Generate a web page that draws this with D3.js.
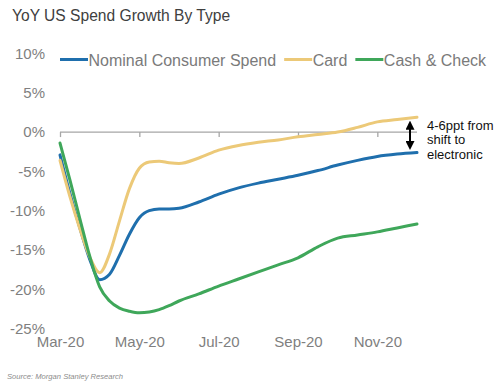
<!DOCTYPE html>
<html>
<head>
<meta charset="utf-8">
<script src="https://cdn.jsdelivr.net/npm/d3@7"></script>
<style>
  html, body { margin: 0; padding: 0; background: #ffffff; }
  svg { display: block; font-family: "Liberation Sans", Arial, sans-serif; }
</style>
</head>
<body>
<svg id="chart" width="494" height="381"></svg>
<script>
// Months elapsed since March 2020 (sampling points of the weekly series)
const monthIdx = [0, 0.25, 0.5, 0.75, 1, 1.25, 1.5, 1.75, 2, 2.25, 2.5, 2.75, 3,
                  3.5, 4, 4.5, 5, 5.5, 6, 6.5, 7, 7.5, 8, 8.5, 9];

// YoY growth, %
const nominalSpend = [-2.9, -7.8, -12.2, -16.2, -18.8, -18.1, -15.7, -13.0, -10.9, -10.0, -9.8, -9.8, -9.7,
                      -8.9, -7.9, -7.1, -6.5, -6.0, -5.5, -4.9, -4.2, -3.6, -3.1, -2.8, -2.6];
const cardSpend    = [-3.6, -8.2, -12.3, -15.9, -17.9, -15.5, -11.3, -7.2, -4.6, -3.8, -3.7, -3.9, -4.0,
                      -3.3, -2.3, -1.7, -1.3, -1.0, -0.6, -0.3, 0.0, 0.6, 1.3, 1.6, 1.9];
const cashCheck    = [-1.4, -6.1, -11.0, -15.8, -19.7, -21.5, -22.4, -22.8, -23.0, -22.9, -22.6, -22.1, -21.5,
                      -20.6, -19.6, -18.7, -17.8, -16.9, -16.0, -14.6, -13.5, -13.1, -12.7, -12.2, -11.7];

const seriesNames = ["Nominal Consumer Spend", "Card", "Cash & Check"];
const seriesColors = ["#1f6fad", "#ecc978", "#3fa75a"];

const xTickIdx = [0, 2, 4, 6, 8];
const xTickLabels = ["Mar-20", "May-20", "Jul-20", "Sep-20", "Nov-20"];
const yTicks = [10, 5, 0, -5, -10, -15, -20, -25];

const titleText = "YoY US Spend Growth By Type";
const sourceText = "Source: Morgan Stanley Research";
const noteLines = ["4-6ppt from", "shift to", "electronic"];

const svg = d3.select("#chart");

const x = d3.scaleLinear().domain([0, 9]).range([60, 417]);
const y = d3.scaleLinear().domain([-25, 10]).range([328.5, 53.5]);

// Title
svg.append("text")
  .attr("x", 12).attr("y", 21)
  .attr("font-size", 15.6)
  .attr("fill", "#404040")
  .text(titleText);

// Y axis labels (no axis line)
const yAxis = svg.append("g")
  .attr("transform", "translate(47,0)")
  .call(d3.axisLeft(y).tickValues(yTicks).tickSize(0).tickPadding(2)
        .tickFormat(d => d + "%"));
yAxis.select(".domain").remove();
yAxis.selectAll("text")
  .attr("font-size", 15)
  .attr("font-family", "Liberation Sans, Arial, sans-serif")
  .attr("fill", "#7f7f7f");

// Zero line with tick marks
const zeroAxis = svg.append("g")
  .attr("transform", `translate(0,${y(0)})`)
  .call(d3.axisBottom(x).tickValues(xTickIdx).tickSize(5).tickFormat(""));
zeroAxis.select(".domain").attr("stroke", "#a6a6a6").attr("stroke-width", 1.3)
  .attr("d", `M${x(0)},0H${x(9)}`);
zeroAxis.selectAll(".tick line").attr("stroke", "#a6a6a6").attr("stroke-width", 1.3);

// X labels along the bottom
const xAxis = svg.append("g")
  .attr("transform", `translate(0,${y(-25)})`)
  .call(d3.axisBottom(x).tickValues(xTickIdx).tickSize(0).tickPadding(8)
        .tickFormat((d, i) => xTickLabels[i]));
xAxis.select(".domain").remove();
xAxis.selectAll("text")
  .attr("font-size", 15)
  .attr("font-family", "Liberation Sans, Arial, sans-serif")
  .attr("fill", "#7f7f7f");

// Series lines
const series = [nominalSpend, cardSpend, cashCheck];
const line = d3.line()
  .x((d, i) => x(monthIdx[i]))
  .y(d => y(d))
  .curve(d3.curveMonotoneX);

svg.append("g").selectAll("path")
  .data(series)
  .join("path")
  .attr("d", d => line(d))
  .attr("fill", "none")
  .attr("stroke", (d, i) => seriesColors[i])
  .attr("stroke-width", 3)
  .attr("stroke-linejoin", "round")
  .attr("stroke-linecap", "round");

// Legend
const legend = svg.append("g").attr("transform", "translate(60,59.5)");
let lx = 0;
seriesNames.forEach((name, i) => {
  legend.append("line")
    .attr("x1", lx).attr("x2", lx + 28)
    .attr("y1", 0).attr("y2", 0)
    .attr("stroke", seriesColors[i]).attr("stroke-width", 3);
  const t = legend.append("text")
    .attr("x", lx + 28.5).attr("y", 6)
    .attr("font-size", 16)
    .attr("fill", "#7a7a7a")
    .text(name);
  lx += 28.5 + t.node().getComputedTextLength() + 8;
});

// Gap annotation: double-headed arrow between card and nominal end points
const defs = svg.append("defs");
defs.append("marker")
  .attr("id", "arrowhead")
  .attr("viewBox", "0 0 10 10")
  .attr("refX", 5).attr("refY", 5)
  .attr("markerWidth", 4.5).attr("markerHeight", 4.5)
  .attr("orient", "auto-start-reverse")
  .append("path")
  .attr("d", "M0,0L10,5L0,10Z")
  .attr("fill", "#000");

const lastI = monthIdx.length - 1;
const arrowX = 410;
svg.append("line")
  .attr("x1", arrowX).attr("x2", arrowX)
  .attr("y1", y(cardSpend[lastI]) + 8)
  .attr("y2", y(nominalSpend[lastI]) - 7)
  .attr("stroke", "#000").attr("stroke-width", 2)
  .attr("marker-start", "url(#arrowhead)")
  .attr("marker-end", "url(#arrowhead)");

svg.append("g").selectAll("text")
  .data(noteLines)
  .join("text")
  .attr("x", 427)
  .attr("y", (d, i) => 129.5 + i * 14.5)
  .attr("font-size", 13)
  .attr("fill", "#111")
  .text(d => d);

// Source line
svg.append("text")
  .attr("x", 7).attr("y", 379)
  .attr("font-size", 7.6)
  .attr("font-style", "italic")
  .attr("fill", "#8c8c8c")
  .text(sourceText);
</script>
</body>
</html>
